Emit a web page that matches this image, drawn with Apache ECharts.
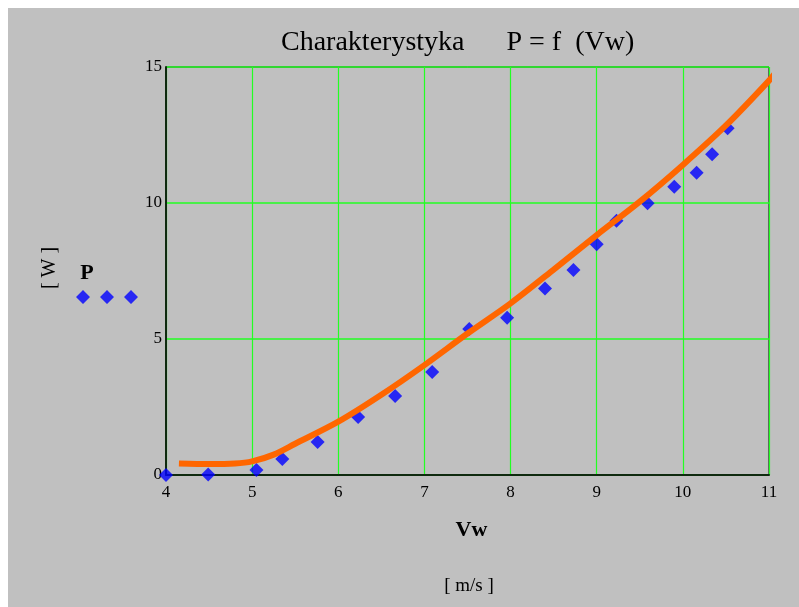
<!DOCTYPE html>
<html>
<head>
<meta charset="utf-8">
<script src="https://cdn.jsdelivr.net/npm/echarts@6/dist/echarts.min.js"></script>
<style>
	html, body { margin: 0; padding: 0; background: #fff; }
	#chart { position: absolute; left: 8px; top: 8px; width: 791px; height: 599px; }
</style>
</head>
<body>
<div id="chart"></div>
<script>
// measured points P(Vw)
var vw = [4.0, 4.49, 5.05, 5.35, 5.76, 6.23, 6.66, 7.09, 7.52, 7.96, 8.40, 8.73, 9.00, 9.23, 9.59, 9.90, 10.16, 10.34, 10.52];
var p = [0.0, 0.02, 0.18, 0.59, 1.21, 2.13, 2.90, 3.79, 5.37, 5.78, 6.86, 7.54, 8.48, 9.35, 9.99, 10.60, 11.11, 11.79, 12.75];
// fitted curve
var fitVw = [4.15, 4.5, 4.8, 5.0, 5.25, 5.5, 6.0, 6.5, 7.0, 7.5, 8.0, 8.5, 9.0, 9.5, 10.0, 10.5, 11.0, 11.1];
var fitP = [0.42, 0.40, 0.42, 0.50, 0.75, 1.15, 1.96, 2.95, 4.04, 5.2, 6.31, 7.55, 8.82, 10.05, 11.4, 12.85, 14.5, 14.9];
var xTicks = [4, 11, 1];
var yTicks = [0, 15, 5];

function loadChart(){
	var chart = echarts.init(document.getElementById("chart"));
	var serif = 'Liberation Serif';
	var option = {
		animation: false,
		backgroundColor: '#c0c0c0',
		title: {
			text: 'Charakterystyka      P = f  (Vw)',
			left: 268,
			top: 16,
			textStyle: { fontFamily: serif, fontSize: 28, fontWeight: 'normal', color: '#000' }
		},
		legend: {
			data: ['P'],
			left: 62,
			top: 277,
			icon: 'path://M0,7L7,0L14,7L7,14Z M24,7L31,0L38,7L31,14Z M48,7L55,0L62,7L55,14Z',
			itemWidth: 64,
			itemHeight: 14,
			formatter: function(){ return ''; },
			selectedMode: false
		},
		grid: {
			left: 158,
			width: 603,
			top: 59,
			height: 408,
			show: true,
			borderColor: '#000',
			borderWidth: 1
		},
		xAxis: {
			type: 'value',
			min: xTicks[0], max: xTicks[1], interval: xTicks[2],
			name: 'Vw',
			nameLocation: 'middle',
			nameGap: 44,
			nameTextStyle: { fontFamily: serif, fontSize: 22, fontWeight: 'bold', color: '#000', padding: [0, 0, 0, 8] },
			axisLine: { lineStyle: { color: '#0f2a0f', width: 2 } },
			axisTick: { show: false },
			axisLabel: { fontFamily: serif, fontSize: 17, color: '#000', margin: 9 },
			splitLine: { lineStyle: { color: '#22ff22', width: 1.2 } }
		},
		yAxis: {
			type: 'value',
			min: yTicks[0], max: yTicks[1], interval: yTicks[2],
			axisLine: { lineStyle: { color: '#0f2a0f', width: 2 } },
			axisTick: { show: false },
			axisLabel: { fontFamily: serif, fontSize: 17, color: '#000', margin: 4 },
			splitLine: { lineStyle: { color: '#22ff22', width: 1.6 } }
		},
		graphic: [
			{ type: 'text', x: 42, y: 260, rotation: Math.PI / 2,
			  style: { text: '[ W ]', font: '20px "Liberation Serif"', fill: '#000', textAlign: 'center', textVerticalAlign: 'middle' } },
			{ type: 'text', x: 79, y: 265,
			  style: { text: 'P', font: 'bold 22px "Liberation Serif"', fill: '#000', textAlign: 'center', textVerticalAlign: 'middle' } },
			{ type: 'text', x: 461, y: 578,
			  style: { text: '[ m/s ]', font: '19px "Liberation Serif"', fill: '#000', textAlign: 'center', textVerticalAlign: 'middle' } }
		],
		series: [
			{
				name: 'P',
				type: 'scatter',
				symbol: 'diamond',
				symbolSize: 14,
				itemStyle: { color: '#0000ff' },
				clip: true,
				z: 2,
				data: vw.map(function(v, i){ return [v, p[i]]; })
			},
			{
				name: 'fit',
				type: 'line',
				smooth: 0.3,
				showSymbol: false,
				clip: false,
				lineStyle: { color: '#ff6600', width: 6 },
				z: 3,
				data: fitVw.map(function(v, i){ return [v, fitP[i]]; })
			}
		]
	};
	chart.setOption(option);
}
loadChart();
</script>
</body>
</html>
